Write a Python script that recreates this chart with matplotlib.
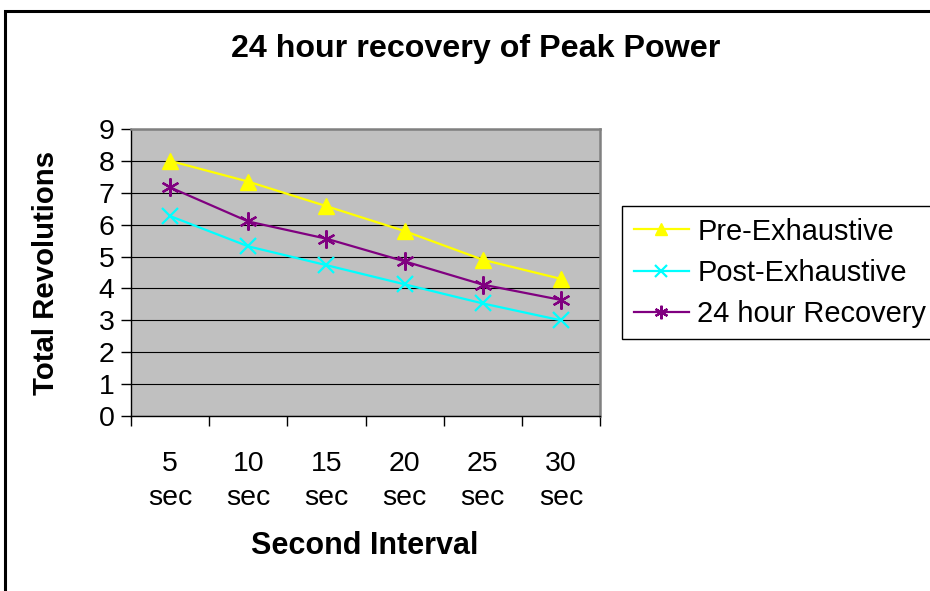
import numpy as np
import matplotlib
matplotlib.use("Agg")
import matplotlib.pyplot as plt
from matplotlib.patches import Rectangle

plt.rcParams['font.family'] = ['Liberation Sans', 'DejaVu Sans']

categories = ["5\nsec", "10\nsec", "15\nsec", "20\nsec", "25\nsec", "30\nsec"]
pre_exhaustive = [8.0, 7.35, 6.58, 5.8, 4.9, 4.3]
post_exhaustive = [6.27, 5.32, 4.73, 4.13, 3.53, 3.0]
recovery_24h = [7.17, 6.1, 5.56, 4.85, 4.12, 3.64]
series_names = ["Pre-Exhaustive", "Post-Exhaustive", "24 hour Recovery"]
y_ticks = list(range(0, 10))

W, H = 930, 591
fig = plt.figure(figsize=(W / 100, H / 100), dpi=100)
fig.patch.set_facecolor("white")

# outer chart border (extends past right/bottom edge)
fig.patches.append(Rectangle((4.5 / W, -0.1), 1.2, 1 - 11 / H + 0.1,
                             transform=fig.transFigure, fill=False,
                             edgecolor="black", linewidth=2.2, zorder=0))

ax = fig.add_axes([131 / W, 1 - 416 / H, (600 - 131) / W, (416 - 129) / H])
ax.set_facecolor("#C0C0C0")

x = np.arange(len(categories))
ax.plot(x, pre_exhaustive, color="#FFFF00", lw=1.6, marker="^", ms=12,
        mec="#FFFF00", mfc="#FFFF00", label=series_names[0], zorder=3)
ax.plot(x, post_exhaustive, color="#00FFFF", lw=1.6, marker="x", ms=11,
        mew=1.6, label=series_names[1], zorder=3)
ax.plot(x, recovery_24h, color="#800080", lw=1.6, marker=(6, 2, 0), ms=13,
        mew=1.6, label=series_names[2], zorder=3)

ax.set_xlim(-0.5, len(categories) - 0.5)
ax.set_ylim(0, 9)
ax.set_yticks(y_ticks)
ax.set_yticklabels([str(v) for v in y_ticks], fontsize=20.5)
ax.yaxis.grid(True, color="black", lw=0.8)
ax.set_axisbelow(True)

ax.set_xticks(np.arange(-0.5, len(categories), 1))
ax.set_xticklabels([])
ax.set_xticks(x, minor=True)
ax.set_xticklabels(categories, minor=True, fontsize=20.5, linespacing=1.42)
ax.tick_params(axis="x", which="major", length=7, width=1, direction="out")
ax.tick_params(axis="x", which="minor", length=0, pad=25)
ax.tick_params(axis="y", length=7, width=1, direction="out", pad=5)

for s in ("left", "bottom"):
    ax.spines[s].set_color("black")
    ax.spines[s].set_linewidth(1)
for s in ("top", "right"):
    ax.spines[s].set_color("#808080")
    ax.spines[s].set_linewidth(1.8)

fig.text(476 / W, 1 - 49 / H, "24 hour recovery of Peak Power",
         ha="center", va="center", fontsize=23.2, fontweight="bold")
fig.text(365 / W, 1 - 546 / H, "Second Interval",
         ha="center", va="center", fontsize=22, fontweight="bold")
fig.text(46 / W, 1 - 273 / H, "Total Revolutions", rotation=90,
         ha="center", va="center", fontsize=21.2, fontweight="bold")

leg = ax.legend(loc="upper left", bbox_to_anchor=(622 / W, 1 - 206 / H),
                bbox_transform=fig.transFigure, fontsize=20.9, frameon=True,
                fancybox=False, edgecolor="black", framealpha=1,
                handlelength=1.9, handletextpad=0.3, borderpad=0.4,
                labelspacing=0.45, borderaxespad=0, markerscale=0.75)
leg.get_frame().set_linewidth(1)

fig.savefig("out.png", dpi=100)
